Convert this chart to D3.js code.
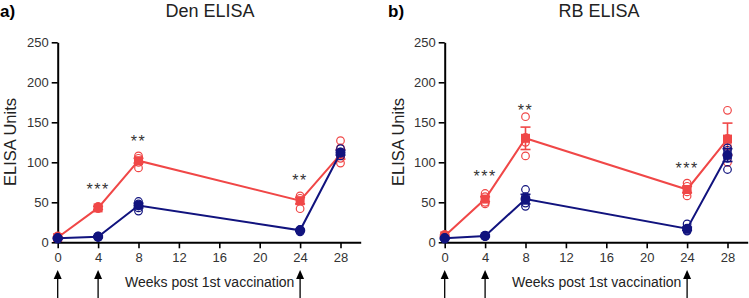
<!DOCTYPE html>
<html><head><meta charset="utf-8">
<script src="https://cdn.jsdelivr.net/npm/d3@7"></script>
<style>
body{margin:0;background:#fff;}
svg{display:block;font-family:"Liberation Sans",Arial,sans-serif;}
</style></head>
<body>
<svg id="c" width="749" height="298"></svg>
<script>
// ---- data ----
const weeks = [0, 4, 8, 24, 28];
const xTicks = [0, 4, 8, 12, 16, 20, 24, 28];
const yTicks = [0, 50, 100, 150, 200, 250];
const vaccWeeks = [0, 4, 24];

const denRedMean = [6, 43, 102, 52, 110];
const denRedErr = [1, 2, 3, 4, 6];
const denRedInd = [[5, 7, 8], [42, 44, 45], [108, 105, 100, 93], [58, 55, 42], [127, 118, 105, 99]];
const denBlueMean = [5, 7, 46, 15, 112];
const denBlueErr = [1, 1, 3, 1, 3];
const denBlueInd = [[4, 5, 6], [6, 7, 8], [51, 48, 43, 39], [14, 16, 13], [117, 113, 108]];
const denStars = [{w: 4, v: 70, t: "***"}, {w: 8, v: 131, t: "**"}, {w: 24, v: 82, t: "**"}];

const rbRedMean = [8, 54, 130, 66, 129];
const rbRedErr = [1, 3, 14, 4, 20];
const rbRedInd = [[7, 9, 10], [61, 57, 50, 48], [157, 131, 125, 108], [74, 70, 63, 58], [165, 130, 120, 100]];
const rbBlueMean = [5, 8, 54, 17, 109];
const rbBlueErr = [1, 1, 6, 2, 8];
const rbBlueInd = [[4, 5, 6], [7, 8, 9], [66, 57, 49, 45], [23, 15, 14], [118, 115, 105, 91]];
const rbStars = [{w: 4, v: 87, t: "***"}, {w: 8, v: 169, t: "**"}, {w: 24, v: 97, t: "***"}];

const RED = "#f04747", BLUE = "#11137e";
const svg = d3.select("#c");

function panel(opt) {
  const x = d3.scaleLinear().domain([0, 30]).range([opt.x0, opt.x0 + 303]);
  const y = d3.scaleLinear().domain([0, 250]).range([242.3, 42.3]);
  const g = svg.append("g");

  // panel letter + title
  g.append("text").attr("x", opt.letterX).attr("y", 17).attr("font-size", 17).attr("font-weight", "bold").text(opt.letter);
  g.append("text").attr("x", opt.titleX).attr("y", 17).attr("font-size", 18).attr("text-anchor", "middle").attr("fill", "#222").text(opt.title);

  // axes
  const ya = g.append("g").attr("transform", `translate(${opt.x0},0)`)
    .call(d3.axisLeft(y).tickValues(yTicks).tickSize(6).tickPadding(3).tickSizeOuter(0));
  const xa = g.append("g").attr("transform", `translate(0,242.3)`)
    .call(d3.axisBottom(x).tickValues(xTicks).tickSize(6).tickPadding(4).tickSizeOuter(0));
  [ya, xa].forEach(a => {
    a.select(".domain").attr("stroke", "#000").attr("stroke-width", 2);
    a.selectAll(".tick line").attr("stroke", "#000").attr("stroke-width", 1.6);
    a.selectAll(".tick text").attr("font-size", 13).attr("fill", "#333").attr("font-family", "Liberation Sans, Arial, sans-serif");
  });

  // axis labels
  g.append("text").attr("transform", `translate(${opt.yLabX},142) rotate(-90)`).attr("text-anchor", "middle")
    .attr("font-size", 16.5).attr("fill", "#222").text("ELISA Units");
  g.append("text").attr("x", opt.x0 + 152).attr("y", 287).attr("text-anchor", "middle")
    .attr("font-size", 14).attr("fill", "#222").text("Weeks post 1st vaccination");

  // vaccination arrows
  vaccWeeks.forEach(w => {
    const cx = x(w);
    g.append("line").attr("x1", cx).attr("x2", cx).attr("y1", 277).attr("y2", 298).attr("stroke", "#000").attr("stroke-width", 1.3);
    g.append("path").attr("d", `M${cx},270L${cx - 4},279L${cx + 4},279Z`).attr("fill", "#000");
  });

  const line = d3.line().x((d, i) => x(weeks[i])).y(d => y(d));

  function series(mean, err, ind, color, shape) {
    const s = g.append("g");
    s.append("path").datum(mean).attr("d", line).attr("fill", "none").attr("stroke", color).attr("stroke-width", 2);
    // error bars
    mean.forEach((m, i) => {
      const cx = x(weeks[i]);
      s.append("line").attr("x1", cx).attr("x2", cx).attr("y1", y(m - err[i])).attr("y2", y(m + err[i])).attr("stroke", color).attr("stroke-width", 1.6);
      [m - err[i], m + err[i]].forEach(v => s.append("line").attr("x1", cx - 5).attr("x2", cx + 5).attr("y1", y(v)).attr("y2", y(v)).attr("stroke", color).attr("stroke-width", 1.6));
    });
    // individual open circles
    ind.forEach((arr, i) => arr.forEach(v => {
      s.append("circle").attr("cx", x(weeks[i])).attr("cy", y(v)).attr("r", 3.8).attr("fill", "none").attr("stroke", color).attr("stroke-width", 1.2);
    }));
    // means
    mean.forEach((m, i) => {
      if (shape === "square") s.append("rect").attr("x", x(weeks[i]) - 4.5).attr("y", y(m) - 4.5).attr("width", 9).attr("height", 9).attr("fill", color);
      else s.append("circle").attr("cx", x(weeks[i])).attr("cy", y(m)).attr("r", 5).attr("fill", color);
    });
  }
  series(opt.redMean, opt.redErr, opt.redInd, RED, "square");
  series(opt.blueMean, opt.blueErr, opt.blueInd, BLUE, "circle");

  // significance stars
  opt.stars.forEach(s => g.append("text").attr("x", x(s.w)).attr("y", y(s.v) + 9).attr("text-anchor", "middle")
    .attr("font-size", 16).attr("letter-spacing", 1.5).attr("fill", "#333").text(s.t));
}

panel({x0: 57.7, letter: "a)", letterX: 0, title: "Den ELISA", titleX: 210, yLabX: 16,
  redMean: denRedMean, redErr: denRedErr, redInd: denRedInd, blueMean: denBlueMean, blueErr: denBlueErr, blueInd: denBlueInd, stars: denStars});
panel({x0: 444.7, letter: "b)", letterX: 388, title: "RB ELISA", titleX: 599, yLabX: 404,
  redMean: rbRedMean, redErr: rbRedErr, redInd: rbRedInd, blueMean: rbBlueMean, blueErr: rbBlueErr, blueInd: rbBlueInd, stars: rbStars});
</script>
</body></html>
